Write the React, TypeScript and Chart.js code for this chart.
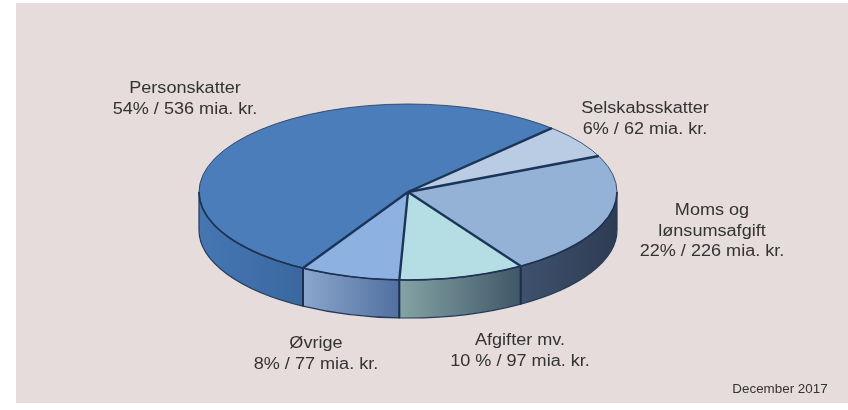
import React, { useEffect, useRef } from 'react';
import { Chart, registerables } from 'chart.js';

Chart.register(...registerables);

// ---- data ----
const CATEGORIES = ['Selskabsskatter', 'Moms og lønsumsafgift', 'Afgifter mv.', 'Øvrige', 'Personskatter'];
const LABEL_LINES = [['Selskabsskatter'], ['Moms og', 'lønsumsafgift'], ['Afgifter mv.'], ['Øvrige'], ['Personskatter']];
const VALUES = [62, 226, 97, 77, 536]; // mia. kr.
const PERCENT_LABELS = ['6%', '22%', '10 %', '8%', '54%'];
const UNIT = 'mia. kr.';
const NOTE = 'December 2017';

// ---- styles / layout ----
const TOP_COLORS = ['#b9cce4', '#94b1d6', '#b5dde4', '#8db2e1', '#4b7dbb'];
const SIDE_COLORS: [string, string][] = [
  ['#8ea3c0', '#6e86a8'],
  ['#3f516d', '#2e3c53'],
  ['#85a3a5', '#3f5767'],
  ['#8aa6cd', '#5170a0'],
  ['#4677b3', '#3a679f'],
];
const LABEL_POS: [number, number][] = [
  [645, 113],
  [712, 215],
  [520, 345],
  [316, 348],
  [185, 93],
];
const LINE_H = 20.5;
const TX = 408; // ellipse centre on screen
const TY = 192;
const RADIUS = 209;
const TILT = 0.421; // vertical squash
const DEPTH = 38;
const STRETCH = 1.13;

const pie3d = {
  id: 'pie3d',
  beforeDatasetsDraw(chart: any) {
    const meta = chart.getDatasetMeta(0);
    const arcs = meta.data as any[];
    if (!arcs.length) return;
    const ctx: CanvasRenderingContext2D = chart.ctx;
    const R = arcs[0].outerRadius;
    const RY = R * TILT;
    const P = Math.PI;
    arcs.forEach((arc: any, i: number) => {
      const s = arc.startAngle;
      const e = arc.endAngle;
      for (let n = -2; n <= 3; n++) {
        const lo = Math.max(s, 2 * P * n);
        const hi = Math.min(e, 2 * P * n + P);
        if (hi <= lo) continue;
        const x0 = TX + R * Math.cos(lo);
        const x1 = TX + R * Math.cos(hi);
        ctx.save();
        ctx.beginPath();
        ctx.ellipse(TX, TY, R, RY, 0, lo, hi, false);
        ctx.lineTo(TX + R * Math.cos(hi), TY + RY * Math.sin(hi) + DEPTH);
        ctx.ellipse(TX, TY + DEPTH, R, RY, 0, hi, lo, true);
        ctx.closePath();
        const g = ctx.createLinearGradient(Math.min(x0, x1), 0, Math.max(x0, x1), 0);
        g.addColorStop(0, SIDE_COLORS[i][0]);
        g.addColorStop(1, SIDE_COLORS[i][1]);
        ctx.fillStyle = g;
        ctx.fill();
        ctx.lineWidth = 1.2;
        ctx.strokeStyle = '#243a5a';
        ctx.stroke();
        ctx.restore();
      }
    });
    // vertical dividers on the visible wall
    ctx.save();
    ctx.strokeStyle = '#1b3050';
    ctx.lineWidth = 2;
    arcs.forEach((arc: any) => {
      const a = arc.startAngle;
      if (Math.sin(a) > 0.02) {
        const x = TX + R * Math.cos(a);
        const y = TY + RY * Math.sin(a);
        ctx.beginPath();
        ctx.moveTo(x, y);
        ctx.lineTo(x, y + DEPTH);
        ctx.stroke();
      }
    });
    ctx.restore();
    // squash the library-drawn top face into an ellipse
    ctx.save();
    ctx.translate(TX, TY);
    ctx.scale(1, TILT);
    ctx.translate(-arcs[0].x, -arcs[0].y);
  },
  afterDatasetsDraw(chart: any) {
    const meta = chart.getDatasetMeta(0);
    const arcs = meta.data as any[];
    if (!arcs.length) return;
    const ctx: CanvasRenderingContext2D = chart.ctx;
    ctx.restore();
    const R = arcs[0].outerRadius;
    const RY = R * TILT;
    ctx.save();
    // rim
    ctx.beginPath();
    ctx.ellipse(TX, TY, R, RY, 0, 0, 2 * Math.PI);
    ctx.lineWidth = 1;
    ctx.strokeStyle = 'rgba(35,60,95,0.85)';
    ctx.stroke();
    ctx.beginPath();
    ctx.ellipse(TX, TY, R, RY, 0, 0, Math.PI);
    ctx.lineWidth = 1.6;
    ctx.strokeStyle = '#1e3352';
    ctx.stroke();
    // radial dividers
    ctx.strokeStyle = '#1a3558';
    ctx.lineWidth = 2.4;
    arcs.forEach((arc: any) => {
      const a = arc.startAngle;
      ctx.beginPath();
      ctx.moveTo(TX, TY);
      ctx.lineTo(TX + R * Math.cos(a), TY + RY * Math.sin(a));
      ctx.stroke();
    });
    ctx.restore();
  },
  afterDraw(chart: any) {
    const ctx: CanvasRenderingContext2D = chart.ctx;
    ctx.save();
    ctx.fillStyle = '#333333';
    ctx.textAlign = 'center';
    ctx.textBaseline = 'alphabetic';
    ctx.font = '16px "Liberation Sans", Arial, sans-serif';
    LABEL_LINES.forEach((lines, i) => {
      const all = [...lines, `${PERCENT_LABELS[i]} / ${VALUES[i]} ${UNIT}`];
      const [x, y] = LABEL_POS[i];
      all.forEach((t, j) => {
        ctx.save();
        ctx.translate(x, y + j * LINE_H);
        ctx.scale(STRETCH, 1);
        ctx.fillText(t, 0, 0);
        ctx.restore();
      });
    });
    ctx.font = '13px "Liberation Sans", Arial, sans-serif';
    ctx.save();
    ctx.translate(780, 393);
    ctx.scale(1.03, 1);
    ctx.fillText(NOTE, 0, 0);
    ctx.restore();
    ctx.restore();
  },
};

export default function App() {
  const ref = useRef<HTMLCanvasElement | null>(null);
  useEffect(() => {
    if (!ref.current) return;
    const chart = new Chart(ref.current, {
      type: 'pie',
      data: {
        labels: CATEGORIES,
        datasets: [
          {
            data: VALUES,
            backgroundColor: TOP_COLORS,
            borderWidth: 0,
            clip: false as any,
          },
        ],
      },
      options: {
        responsive: false,
        animation: false,
        rotation: 43.5,
        radius: RADIUS,
        layout: { padding: 0 },
        plugins: {
          legend: { display: false },
          tooltip: { enabled: false },
        },
      },
      plugins: [pie3d],
    });
    return () => chart.destroy();
  }, []);
  return (
    <div style={{ position: 'fixed', left: 0, top: 0, width: 848, height: 410, background: '#ffffff' }}>
      <div style={{ position: 'absolute', left: 16, top: 3, width: 832, height: 400, background: '#e5dcdb' }} />
      <canvas ref={ref} width={848} height={410} style={{ position: 'absolute', left: 0, top: 0, width: 848, height: 410 }} />
    </div>
  );
}
